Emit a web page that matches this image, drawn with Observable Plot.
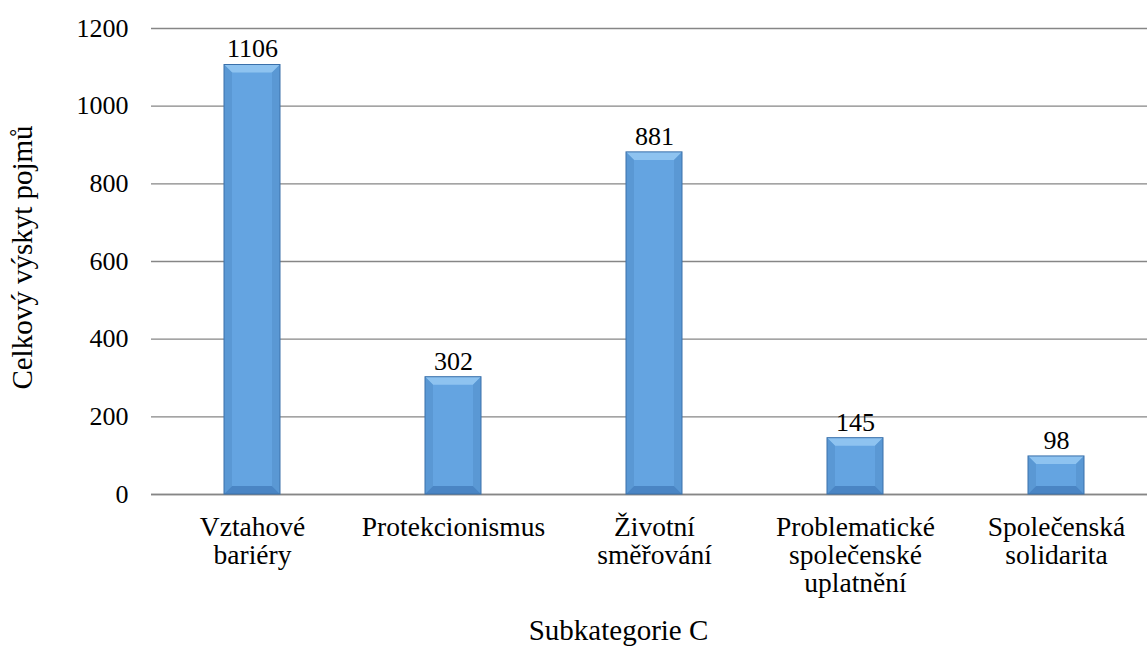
<!DOCTYPE html>
<html><head><meta charset="utf-8">
<script src="https://cdn.jsdelivr.net/npm/d3@7"></script>
<script src="https://cdn.jsdelivr.net/npm/@observablehq/plot@0.6"></script>
<style>
body{margin:0;background:#fff;overflow:hidden;}
#chart svg{display:block;}
</style>
</head><body><div id="chart"></div>
<script>
const categories = ["Vztahové\nbariéry", "Protekcionismus", "Životní\nsměřování", "Problematické\nspolečenské\nuplatnění", "Společenská\nsolidarita"];
const values = [1106, 302, 881, 145, 98];
const yTicks = [0, 200, 400, 600, 800, 1000, 1200];
const yTitle = "Celkový výskyt pojmů";
const xTitle = "Subkategorie C";

const data = categories.map((c, i) => ({category: c, value: values[i]}));

const FF = "Liberation Serif";
const FACE = "#64a4e1", TOP = "#8ec3f0", SIDE = "#5a98d4", BOTTOM = "#4a85c4", EDGE = "#3a70aa";

function bevel(index, scales, vals, dims, ctx, next) {
  const g = next(index, scales, vals, dims, ctx);
  const ns = "http://www.w3.org/2000/svg";
  g.querySelectorAll("rect").forEach(r => {
    const x = +r.getAttribute("x"), y = +r.getAttribute("y");
    const w = +r.getAttribute("width"), h = +r.getAttribute("height");
    const b = Math.min(8, h / 3, w / 3);
    const polys = [
      [[x, y], [x + w, y], [x + w - b, y + b], [x + b, y + b], TOP],
      [[x, y], [x + b, y + b], [x + b, y + h - b], [x, y + h], SIDE],
      [[x + w, y], [x + w - b, y + b], [x + w - b, y + h - b], [x + w, y + h], SIDE],
      [[x, y + h], [x + b, y + h - b], [x + w - b, y + h - b], [x + w, y + h], BOTTOM]
    ];
    const parent = r.parentNode;
    const next2 = r.nextSibling;
    polys.forEach(p => {
      const el = document.createElementNS(ns, "polygon");
      el.setAttribute("points", p.slice(0, 4).map(q => q.join(",")).join(" "));
      el.setAttribute("fill", p[4]);
      parent.insertBefore(el, next2);
    });
    const o = document.createElementNS(ns, "rect");
    ["x", "y", "width", "height"].forEach(a => o.setAttribute(a, r.getAttribute(a)));
    o.setAttribute("fill", "none");
    o.setAttribute("stroke", EDGE);
    o.setAttribute("stroke-width", "1");
    parent.insertBefore(o, next2);
  });
  return g;
}

const chart = Plot.plot({
  width: 1147,
  height: 646,
  marginLeft: 151,
  marginRight: -10,
  marginTop: 28,
  marginBottom: 152,
  style: {fontFamily: FF, fontSize: "26px", color: "#000", background: "#fff"},
  x: {domain: categories, paddingInner: 0.72, paddingOuter: 0.36, label: null},
  y: {domain: [0, 1200], label: null},
  marks: [
    Plot.gridY(yTicks, {stroke: "#868686", strokeOpacity: 1, strokeWidth: 1.3}),
    Plot.ruleY([0], {stroke: "#868686", strokeWidth: 1.3}),
    Plot.barY(data, {x: "category", y: "value", fill: FACE, render: bevel}),
    Plot.text(data, {x: "category", y: "value", text: d => String(d.value), dy: -16, fontSize: 26, fontFamily: FF, fill: "#000"}),
    Plot.axisY(yTicks, {tickSize: 0, tickPadding: 23, fontSize: 26, label: null, tickFormat: d => String(d)}),
    Plot.axisX({tickSize: 0, tickPadding: 21, fontSize: 27.5, lineHeight: 1.03, label: null}),
    Plot.text([yTitle], {frameAnchor: "left", dx: -129, dy: -4, rotate: -90, textAnchor: "middle", fontSize: 29, fontFamily: FF, fill: "#000"}),
    Plot.text([xTitle], {frameAnchor: "bottom", dx: -36, dy: 145, fontSize: 29, fontFamily: FF, fill: "#000"})
  ]
});
chart.querySelectorAll("text").forEach(t => t.setAttribute("font-family", FF));
document.getElementById("chart").appendChild(chart);
</script>
</body></html>
